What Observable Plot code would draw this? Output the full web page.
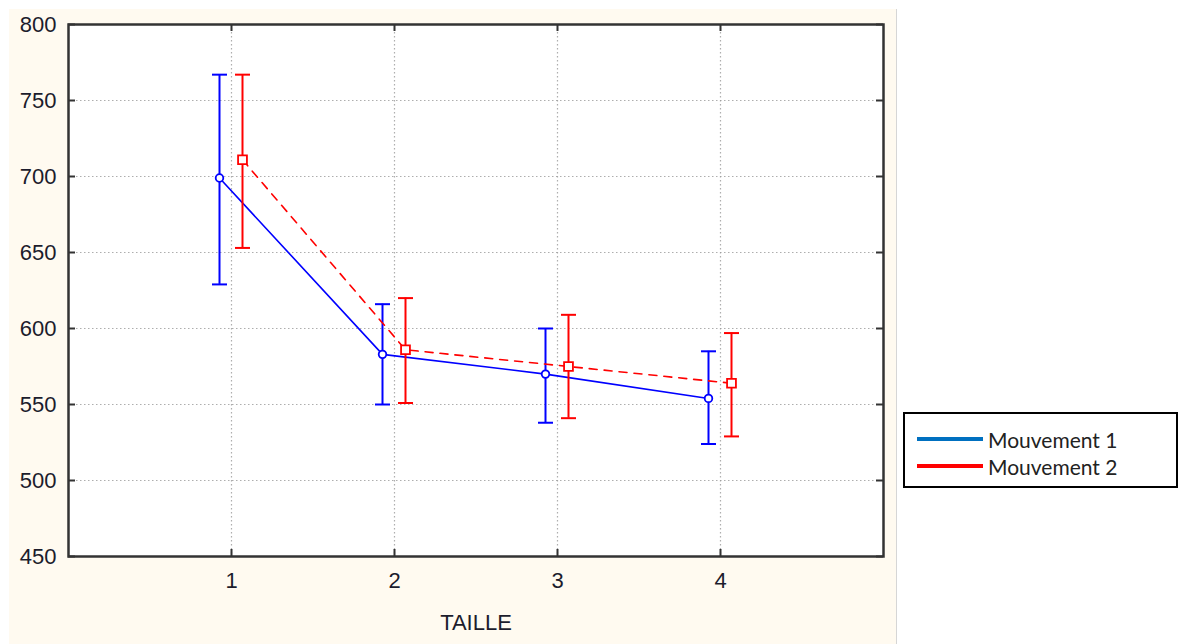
<!DOCTYPE html>
<html><head><meta charset="utf-8">
<script src="https://cdn.jsdelivr.net/npm/d3@7"></script>
<script src="https://cdn.jsdelivr.net/npm/@observablehq/plot@0.6"></script>
<style>
body{margin:0;background:#fff;}
#wrap{position:relative;width:1178px;height:644px;overflow:hidden;}
#bg{position:absolute;left:9px;top:9px;width:887px;height:635px;background:#FFFAF0;border-right:1px solid #d6d6d6;}
#chart{position:absolute;left:0;top:0;}
#legend{position:absolute;left:903px;top:412px;width:271px;height:72px;border:2px solid #000;background:#fff;font-family:Lato, "Open Sans", sans-serif;font-size:21px;color:#222;}
.row{position:absolute;left:12px;display:flex;align-items:center;height:24px;}
.sw{width:66px;height:4px;margin-right:5px;}
</style>
</head><body>
<div id="wrap"><div id="bg"></div><div id="chart"></div><div id="legend"></div></div>
<script>
const taille = [1, 2, 3, 4];
const seriesNames = ["Mouvement 1", "Mouvement 2"];
const m1Mean = [699, 583, 570, 554];
const m1Low  = [629, 550, 538, 524];
const m1High = [767, 616, 600, 585];
const m2Mean = [711, 586, 575, 564];
const m2Low  = [653, 551, 541, 529];
const m2High = [767, 620, 609, 597];
const yTicks = [450, 500, 550, 600, 650, 700, 750, 800];
const xTicks = [1, 2, 3, 4];
const chartColors = ["#0000ff", "#ff0000"];
const legendColors = ["#0070C0", "#FF0000"];

const m1 = taille.map((t, i) => ({taille: t, serie: seriesNames[0], mean: m1Mean[i], low: m1Low[i], high: m1High[i]}));
const m2 = taille.map((t, i) => ({taille: t, serie: seriesNames[1], mean: m2Mean[i], low: m2Low[i], high: m2High[i]}));

const capHalf = 0.046;
function seriesMarks(data, color, dx, dash, symbol, r) {
  return [
    Plot.line(data, {x: "taille", y: "mean", dx, stroke: color, strokeWidth: 1.6, strokeDasharray: dash}),
    Plot.ruleX(data, {x: "taille", y1: "low", y2: "high", dx, stroke: color, strokeWidth: 2}),
    Plot.link(data, {x1: d => d.taille - capHalf, x2: d => d.taille + capHalf, y1: "high", y2: "high", dx, stroke: color, strokeWidth: 2}),
    Plot.link(data, {x1: d => d.taille - capHalf, x2: d => d.taille + capHalf, y1: "low", y2: "low", dx, stroke: color, strokeWidth: 2}),
    Plot.dot(data, {x: "taille", y: "mean", dx, symbol, r, stroke: color, strokeWidth: 1.8, fill: "white"})
  ];
}

const W = 1178, H = 644, mL = 68, mR = 295, mT = 24, mB = 88;
const plotW = W - mL - mR, plotH = H - mT - mB;

const chart = Plot.plot({
  width: W, height: H,
  marginLeft: mL, marginRight: mR, marginTop: mT, marginBottom: mB,
  style: {fontFamily: "'Liberation Sans', Arial, sans-serif", fontSize: "22px", color: "#1c1c2c", background: "transparent"},
  x: {domain: [0, 5]},
  y: {domain: [450, 800]},
  marks: [
    Plot.frame({fill: "white", stroke: "none"}),
    Plot.gridX(xTicks, {stroke: "#9a9a9a", strokeOpacity: 0.8, strokeDasharray: "1.5,2.5", strokeWidth: 1.2}),
    Plot.gridY(yTicks, {stroke: "#9a9a9a", strokeOpacity: 0.8, strokeDasharray: "1.5,2.5", strokeWidth: 1.2}),
    Plot.tickY(yTicks, {y: d => d, insetRight: plotW - 7, stroke: "#333", strokeWidth: 2}),
    Plot.tickY(yTicks, {y: d => d, insetLeft: plotW - 7, stroke: "#333", strokeWidth: 2}),
    Plot.tickX(xTicks, {x: d => d, insetTop: plotH - 7, stroke: "#333", strokeWidth: 2}),
    Plot.tickX(xTicks, {x: d => d, insetBottom: plotH - 7, stroke: "#333", strokeWidth: 2}),
    Plot.axisY(yTicks, {tickSize: 0, tickPadding: 12, fontSize: 22, tickFormat: "d", label: null}),
    Plot.axisX(xTicks, {tickSize: 0, tickPadding: 16, fontSize: 22, tickFormat: "d", label: "TAILLE", labelAnchor: "center", labelOffset: 73, labelArrow: "none"}),
    ...seriesMarks(m1, chartColors[0], -12, null, "circle", 3.8),
    ...seriesMarks(m2, chartColors[1], 11, "8,7", "square", 5),
    Plot.frame({stroke: "#333", strokeWidth: 2.5})
  ]
});
document.getElementById("chart").appendChild(chart);

const legend = document.getElementById("legend");
seriesNames.forEach((name, i) => {
  const row = document.createElement("div");
  row.className = "row";
  row.style.top = (i === 0 ? 13 : 40) + "px";
  const sw = document.createElement("div");
  sw.className = "sw";
  sw.style.background = legendColors[i];
  const label = document.createElement("span");
  label.textContent = name;
  row.appendChild(sw); row.appendChild(label);
  legend.appendChild(row);
});
</script>
</body></html>
